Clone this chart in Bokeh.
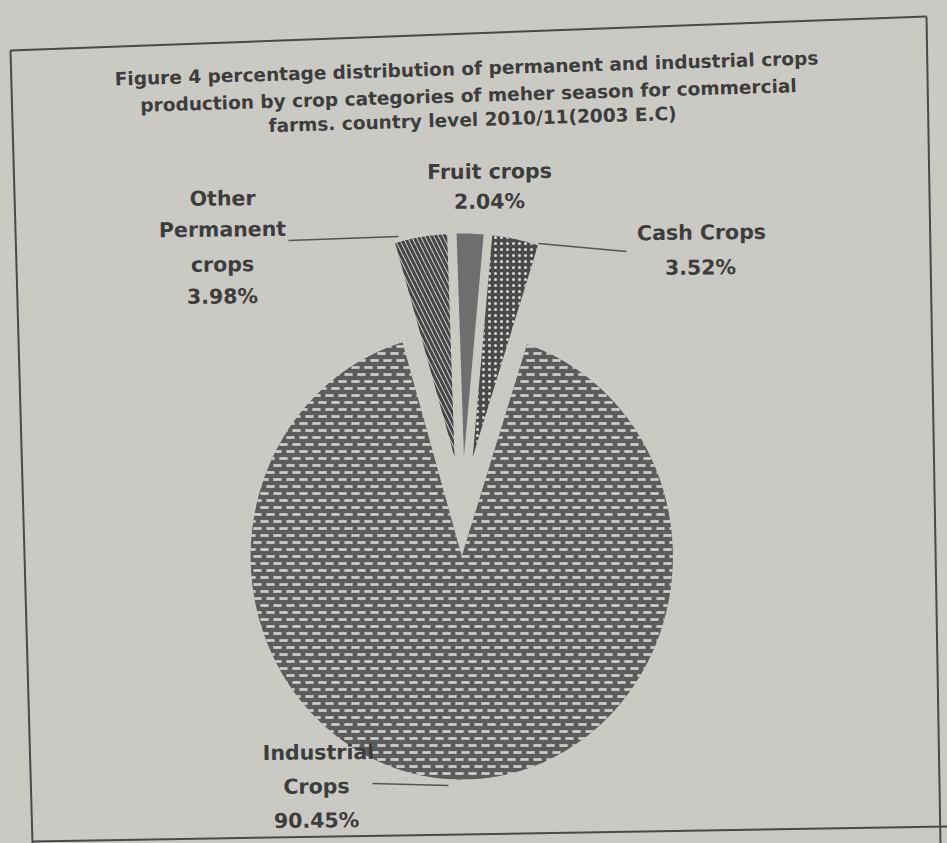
import math, zlib, struct, base64
from bokeh.plotting import figure
from bokeh.models import Range1d, ImageURLTexture
from bokeh.embed import file_html
from bokeh.resources import INLINE
from bokeh.core.properties import value

# ---------------- data ----------------
categories = ["Fruit crops", "Cash Crops", "Industrial Crops", "Other Permanent crops"]
shares = [2.04, 3.52, 90.45, 3.98]
label_lines = [["Fruit crops"], ["Cash Crops"], ["Industrial", "Crops"], ["Other", "Permanent", "crops"]]
title_lines = [
    "Figure 4 percentage distribution of permanent and industrial crops",
    "production by crop categories of meher season for commercial",
    "farms. country level 2010/11(2003 E.C)",
]

# ---------------- layout ----------------
W, H = 947, 843
def X(px):
    return px
def Y(py):
    return H - py

BG = "#cbc9c4"
INK = "#3d3d3d"
FONT = value("DejaVu Sans")


def png_uri(pixels):
    h = len(pixels); w = len(pixels[0])
    raw = b"".join(b"\x00" + bytes([c for px in row for c in px]) for row in pixels)
    def chunk(t, d):
        c = struct.pack(">I", len(d)) + t + d
        return c + struct.pack(">I", zlib.crc32(t + d) & 0xffffffff)
    png = (b"\x89PNG\r\n\x1a\n" + chunk(b"IHDR", struct.pack(">IIBBBBB", w, h, 8, 2, 0, 0, 0))
           + chunk(b"IDAT", zlib.compress(raw)) + chunk(b"IEND", b""))
    return "data:image/png;base64," + base64.b64encode(png).decode()

# brick texture tile (light dashes in staggered rows on dark gray)
dark, light, mid = (92, 92, 92), (206, 206, 204), (158, 158, 156)
tw, th = 13, 14
tile = []
for yy in range(th):
    row = []
    r, ry = divmod(yy, 7)
    off = 0 if r == 0 else 6
    for xx in range(tw):
        dx = (xx - off) % tw
        if ry in (2, 3, 4) and dx <= 8:
            if dx in (0, 8):
                c = mid
            elif ry == 3:
                c = light
            else:
                c = (190, 190, 188)
        else:
            c = dark
        row.append(c)
    tile.append(row)
brick = ImageURLTexture(url=png_uri(tile), repetition="repeat")

p = figure(width=W, height=H, output_backend="svg", toolbar_location=None,
           x_range=Range1d(0, W), y_range=Range1d(0, H), min_border=0)
p.axis.visible = False
p.grid.visible = False
p.outline_line_color = None
p.background_fill_color = BG
p.border_fill_color = BG

# photo frame of the printed chart
frame = [((10, 50), (926, 16)), ((10, 50), (32, 843)), ((926, 16), (940, 843)), ((32, 841), (947, 826))]
for (a, b) in frame:
    p.line([X(a[0]), X(b[0])], [Y(a[1]), Y(b[1])], line_color="#4a4a4a", line_width=2)

# pie geometry (slightly elliptical, as photographed)
cx, cy = X(462), Y(506)
RX, RY = 211, 223
explode = 50
start_offset = -2.0  # compass degrees, clockwise from 12 o'clock

styles = [
    dict(fill_color="#6e6e6e"),
    dict(fill_color="#4a4a4a", hatch_pattern="dot", hatch_color="#dadada", hatch_scale=6, hatch_weight=4.2),
    dict(fill_color="#8a8a8a", hatch_pattern="brick", hatch_extra={"brick": brick}),
    dict(fill_color="#c9c7c3", hatch_pattern="left_diagonal_line", hatch_color="#454545", hatch_scale=9, hatch_weight=3),
]

total = sum(shares)
acc = start_offset
for i, s in enumerate(shares):
    a0 = acc
    a1 = acc + 360.0 * s / total
    acc = a1
    am = math.radians((a0 + a1) / 2)
    x0 = cx + explode * math.sin(am)
    y0 = cy + explode * math.cos(am)
    n = max(8, int((a1 - a0) * 2))
    xs, ys = [x0], [y0]
    for k in range(n + 1):
        a = math.radians(a0 + (a1 - a0) * k / n)
        xs.append(x0 + RX * math.sin(a))
        ys.append(y0 + RY * math.cos(a))
    p.patch(xs, ys, line_color=None, **styles[i])

# leader lines
leaders = [((288, 240), (398, 236)), ((538, 243), (626, 251)), ((372, 783), (448, 785))]
for (a, b) in leaders:
    p.line([X(a[0]), X(b[0])], [Y(a[1]), Y(b[1])], line_color="#555555", line_width=1.5)

# title
title_pos = [(466, 68), (468, 95), (472, 119)]
for t, (tx, ty) in zip(title_lines, title_pos):
    p.text(x=[X(tx)], y=[Y(ty)], text=[t], text_font=FONT, text_font_style="bold",
           text_font_size="18.5px", text_color=INK, text_align="center", text_baseline="middle",
           angle=0.03)

# slice labels
label_pos = [
    [(489, 171)],
    [(701, 232)],
    [(318, 752), (316, 786)],
    [(222, 198), (222, 229), (222, 264)],
]
pct_pos = [(489, 201), (700, 267), (316, 820), (222, 296)]
for i in range(len(categories)):
    for line, (lx, ly) in zip(label_lines[i], label_pos[i]):
        p.text(x=[X(lx)], y=[Y(ly)], text=[line], text_font=FONT, text_font_style="bold",
               text_font_size="20.5px", text_color=INK, text_align="center", text_baseline="middle",
               angle=0.01)
    lx, ly = pct_pos[i]
    p.text(x=[X(lx)], y=[Y(ly)], text=[f"{shares[i]:.2f}%"], text_font=FONT, text_font_style="bold",
           text_font_size="20.5px", text_color=INK, text_align="center", text_baseline="middle",
           angle=0.01)

html = file_html(p, INLINE)
html = html.replace("</head>", "<style>html,body{margin:0;padding:0;background:%s;overflow:hidden;}</style></head>" % BG, 1)
open("out.html", "w").write(html)
